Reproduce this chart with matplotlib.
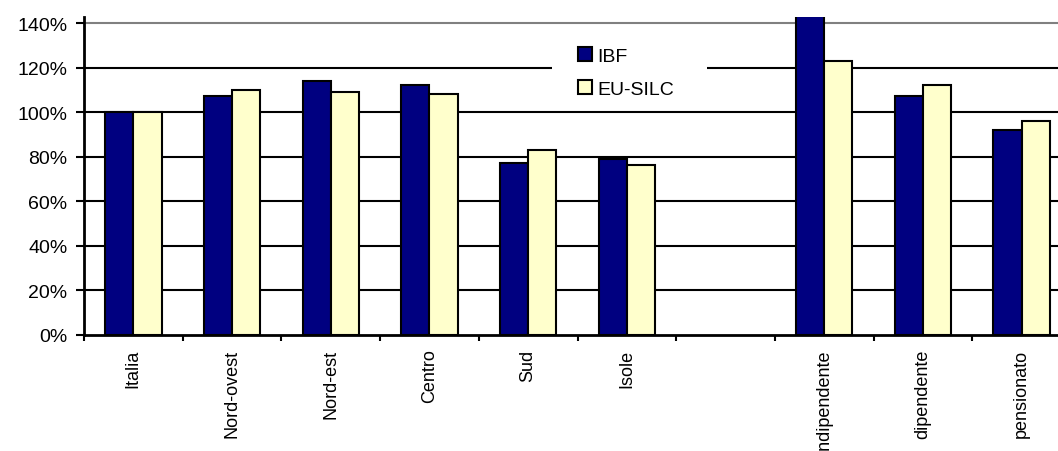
import matplotlib
matplotlib.use("Agg")
import matplotlib.pyplot as plt
import numpy as np
from matplotlib.patches import Patch, Rectangle

plt.rcParams['font.family'] = ['Liberation Sans', 'DejaVu Sans']

categories = ["Italia", "Nord-ovest", "Nord-est", "Centro", "Sud", "Isole", "",
              "indipendente", "dipendente", "pensionato"]
ibf = [100, 107, 114, 112, 77, 79, np.nan, 143, 107, 92]
eu_silc = [100, 110, 109, 108, 83, 76, np.nan, 123, 112, 96]
yticks = [0, 20, 40, 60, 80, 100, 120, 140]

W, H = 1058, 452
fig = plt.figure(figsize=(W / 100, H / 100), dpi=100)
left, bottom, top = 84, 335.5, 18
ncat = len(categories)
cat_px = 98.7
ax = fig.add_axes([left / W, (H - bottom) / H, ncat * cat_px / W, (bottom - top) / H])

x = np.arange(ncat)
bw = 1 / 3.5
ax.bar(x - bw / 2, ibf, width=bw, color="#000080", edgecolor="black", linewidth=1.5, zorder=3)
ax.bar(x + bw / 2, eu_silc, width=bw, color="#FFFFCC", edgecolor="black", linewidth=1.5, zorder=3)

ax.set_xlim(-0.5, ncat - 0.5)
ax.set_ylim(0, 142.7)
ax.set_yticks(yticks)
ax.set_yticklabels([f"{v}%" for v in yticks], fontsize=14)
for v in yticks[1:]:
    ax.axhline(v, color="#808080" if v == 140 else "black", linewidth=1.5, zorder=1)

ax.set_xticks(np.arange(ncat + 1) - 0.5, minor=False)
ax.set_xticklabels([])
ax.set_xticks(x, minor=True)
ax.set_xticklabels(categories, minor=True, rotation=90, fontsize=13, va="top")
ax.tick_params(axis="x", which="minor", length=0, pad=10)
ax.tick_params(axis="x", which="major", length=4.5, width=1.5, direction="out")
ax.tick_params(axis="y", length=5.5, width=1.5, direction="out", pad=6.5)

for s in ["top", "right"]:
    ax.spines[s].set_visible(False)
for s in ["left", "bottom"]:
    ax.spines[s].set_linewidth(2)
    ax.spines[s].set_zorder(4)

# white panel behind the legend, breaking the 120% gridline
fig.patches.append(Rectangle((552 / W, 1 - 104 / H), 155 / W, 66 / H,
                             transform=fig.transFigure, facecolor="white",
                             edgecolor="none", zorder=2))

handles = [Patch(facecolor="#000080", edgecolor="black", linewidth=1.5, label="IBF"),
           Patch(facecolor="#FFFFCC", edgecolor="black", linewidth=1.5, label="EU-SILC")]
leg = fig.legend(handles=handles, loc="upper left", bbox_to_anchor=(574 / W, 1 - 44 / H),
                 frameon=False, fontsize=14, handlelength=0.72, handleheight=0.72,
                 handletextpad=0.3, labelspacing=0.78, borderpad=0.2, borderaxespad=0)
leg.set_zorder(5)

fig.savefig("out.png", dpi=100)
